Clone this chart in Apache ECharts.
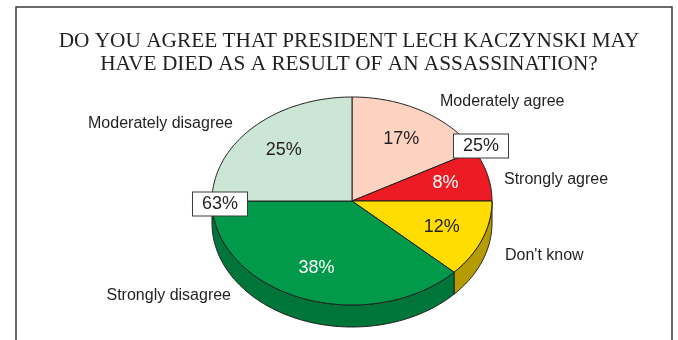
<!DOCTYPE html>
<html>
<head>
<meta charset="utf-8">
<script src="https://cdn.jsdelivr.net/npm/echarts@6/dist/echarts.min.js"></script>
<style>
  html, body { margin: 0; padding: 0; background: #fff; }
  #chart { width: 678px; height: 340px; }
</style>
</head>
<body>
<div id="chart"></div>
<script>
// Survey answers, in clockwise order from 12 o'clock
const categories = ['Moderately agree', 'Strongly agree', "Don't know", 'Strongly disagree', 'Moderately disagree'];
const shares = [17, 8, 12, 38, 25];
// Which answers make up the boxed "agree" / "disagree" totals
const agreeGroup = ['Moderately agree', 'Strongly agree'];
const disagreeGroup = ['Strongly disagree', 'Moderately disagree'];

const TITLE = 'DO YOU AGREE THAT PRESIDENT LECH KACZYNSKI MAY\nHAVE DIED AS A RESULT OF AN ASSASSINATION?';

// Styling
const topColors  = ['#fcd3c1', '#ed1c24', '#ffdd00', '#009a4a', '#cce6d6'];
const sideColors = ['#c9a898', '#a5141a', '#b39b00', '#00753a', '#a3b8ab'];
const pctColors  = ['#231f20', '#ffffff', '#231f20', '#ffffff', '#231f20'];
const INK = '#231f20';

// Tilted pie geometry (pixels)
const PIE = { cx: 352, cy: 201, rx: 140, ry: 104, depth: 22, labelK: 0.69 };
// Category name anchors: [x, y, align]
const nameLayout = [
  [440, 102, 'left'],
  [504, 180, 'left'],
  [505, 256, 'left'],
  [231, 296, 'right'],
  [233, 124, 'right']
];
const agreeBox = [481, 146];
const disagreeBox = [220, 204];

const total = shares.reduce((a, b) => a + b, 0);
const startAngles = [];
shares.reduce((acc, v) => { startAngles.push(acc); return acc + v; }, 0);

function pt(deg, dy) {
  const r = deg * Math.PI / 180;
  return [PIE.cx + PIE.rx * Math.sin(r), PIE.cy - PIE.ry * Math.cos(r) + (dy || 0)];
}
function arcPoints(a1, a2, dy) {
  const pts = [];
  const n = Math.max(2, Math.ceil(Math.abs(a2 - a1)));
  for (let i = 0; i <= n; i++) pts.push(pt(a1 + (a2 - a1) * i / n, dy));
  return pts;
}
function sliceRange(i) {
  const a1 = startAngles[i] / total * 360;
  const a2 = (startAngles[i] + shares[i]) / total * 360;
  return [a1, a2];
}
function groupSum(names) {
  return names.reduce((s, n) => s + shares[categories.indexOf(n)], 0);
}

const chart = echarts.init(document.getElementById('chart'), null, { renderer: 'canvas' });

const option = {
  animation: false,
  backgroundColor: '#ffffff',
  title: {
    text: TITLE,
    left: 344,
    top: 25,
    textAlign: 'center',
    textStyle: {
      fontFamily: 'Liberation Serif',
      fontSize: 21.3,
      fontWeight: 'normal',
      color: INK,
      lineHeight: 23
    }
  },
  graphic: [
    {
      type: 'rect',
      shape: { x: 16, y: 7, width: 656, height: 400 },
      style: { fill: 'none', stroke: '#3a3a3a', lineWidth: 1.5 },
      silent: true
    }
  ],
  series: [
    // Rim of the pie (front half only)
    {
      type: 'custom',
      coordinateSystem: 'none',
      z: 1,
      data: shares.map((v, i) => ({ value: v, name: categories[i] })),
      renderItem: function (params) {
        const i = params.dataIndex;
        const [a1, a2] = sliceRange(i);
        const s = Math.max(a1, 90), e = Math.min(a2, 270);
        if (e <= s) return { type: 'group', children: [] };
        const pts = arcPoints(s, e, 0).concat(arcPoints(e, s, PIE.depth));
        return {
          type: 'polygon',
          shape: { points: pts },
          style: { fill: sideColors[i], stroke: INK, lineWidth: 1 }
        };
      }
    },
    // Top faces with inner percentages
    {
      type: 'custom',
      coordinateSystem: 'none',
      z: 2,
      data: shares.map((v, i) => ({ value: v, name: categories[i] })),
      renderItem: function (params, api) {
        const i = params.dataIndex;
        const v = api.value(0);
        const [a1, a2] = sliceRange(i);
        const pts = [[PIE.cx, PIE.cy]].concat(arcPoints(a1, a2, 0));
        const mid = (a1 + a2) / 2 * Math.PI / 180;
        const lx = PIE.cx + PIE.rx * PIE.labelK * Math.sin(mid);
        const ly = PIE.cy - PIE.ry * PIE.labelK * Math.cos(mid);
        const nl = nameLayout[i];
        return {
          type: 'group',
          children: [
            {
              type: 'polygon',
              shape: { points: pts },
              style: { fill: topColors[i], stroke: INK, lineWidth: 1 }
            },
            {
              type: 'text',
              x: lx, y: ly,
              style: {
                text: v + '%',
                fill: pctColors[i],
                font: '18px "Liberation Sans", Arial, sans-serif',
                align: 'center',
                verticalAlign: 'middle'
              }
            },
            {
              type: 'text',
              x: nl[0], y: nl[1],
              style: {
                text: categories[i],
                fill: INK,
                font: '16px "Liberation Sans", Arial, sans-serif',
                align: nl[2],
                verticalAlign: 'middle'
              }
            }
          ]
        };
      }
    },
    // Boxed group totals
    {
      type: 'custom',
      coordinateSystem: 'none',
      z: 3,
      data: [groupSum(agreeGroup), groupSum(disagreeGroup)],
      renderItem: function (params, api) {
        const pos = params.dataIndex === 0 ? agreeBox : disagreeBox;
        return {
          type: 'text',
          x: pos[0], y: pos[1],
          style: {
            text: api.value(0) + '%',
            fill: INK,
            font: '18px "Liberation Sans", Arial, sans-serif',
            align: 'center',
            verticalAlign: 'middle',
            backgroundColor: '#ffffff',
            borderColor: '#3a3a3a',
            borderWidth: 1,
            padding: [3, 9, 2, 9]
          }
        };
      }
    }
  ]
};

chart.setOption(option);
</script>
</body>
</html>
